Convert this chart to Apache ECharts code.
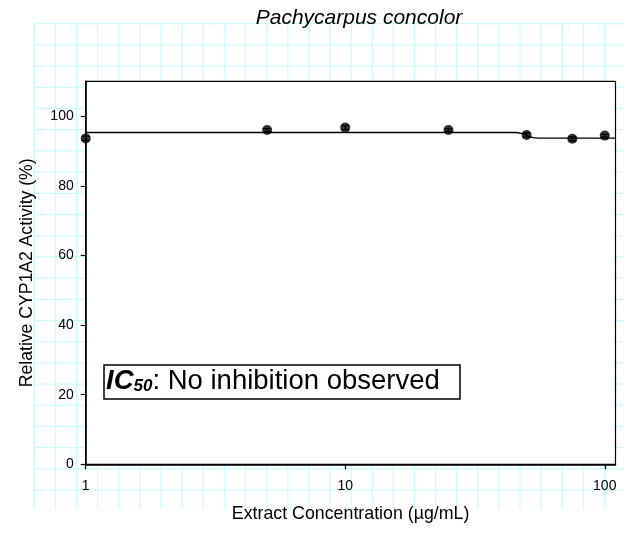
<!DOCTYPE html>
<html>
<head>
<meta charset="utf-8">
<script src="https://cdn.jsdelivr.net/npm/echarts@6/dist/echarts.min.js"></script>
<style>
  html, body { margin: 0; padding: 0; background: #fff; }
  #chart { width: 642px; height: 536px; }
</style>
</head>
<body>
<div id="chart"></div>
<script>
// Concentrations tested (µg/mL) and mean relative CYP1A2 activity (%)
const concentrations = [1, 5, 10, 25, 50, 75, 100];
const activity = [93.6, 96.0, 96.7, 96.0, 94.6, 93.5, 94.4];
const activityErr = [0.6, 0.4, 0.6, 0.4, 0.6, 0.6, 0.4];

// Fitted dose-response curve (x, y)
const fitConc = [1, 45, 48, 50, 52, 54, 58, 110];
const fitActivity = [95.3, 95.3, 95.0, 94.5, 94.0, 93.75, 93.7, 93.7];

// Axis tick values
const xTicks = [1, 10, 100];
const yTicks = [0, 20, 40, 60, 80, 100];

const chart = echarts.init(document.getElementById('chart'), null, { renderer: 'canvas' });

// Light cyan sheet grid behind the plot
const sheet = [];
const gx0 = 34.3, gy0 = 23.7, gx1 = 624.3, gy1 = 509.3;
const stepX = 21.12, stepY = 21.2;
for (let i = 0; i <= 27; i++) {
  const x = gx0 + i * stepX;
  sheet.push({ type: 'line', z: -100, silent: true,
    shape: { x1: x, y1: gy0, x2: x, y2: gy1 },
    style: { stroke: '#ccfcfc', lineWidth: 1.3 } });
}
for (let j = 0; j <= 22; j++) {
  const y = gy0 + j * stepY;
  sheet.push({ type: 'line', z: -100, silent: true,
    shape: { x1: gx0, y1: y, x2: gx1, y2: y },
    style: { stroke: '#ccfcfc', lineWidth: 1.3 } });
}

const font = '"Liberation Sans", Arial, sans-serif';

const option = {
  animation: false,
  backgroundColor: '#ffffff',
  title: {
    text: 'Pachycarpus concolor',
    left: 354, top: 3, textAlign: 'center',
    textStyle: { fontFamily: font, fontStyle: 'italic', fontWeight: 'normal', fontSize: 21, color: '#000' }
  },
  grid: {
    left: 85.7, top: 81.3, right: 26.5, bottom: 71.7,
    show: true, backgroundColor: '#ffffff', borderColor: '#000', borderWidth: 1.2
  },
  xAxis: {
    type: 'log', logBase: 10, min: 1, max: 110,
    name: 'Extract Concentration (µg/mL)', nameLocation: 'middle', nameGap: 41,
    nameTextStyle: { fontFamily: font, fontSize: 17.8, color: '#000' },
    axisLine: { show: true, onZero: false, lineStyle: { color: '#000', width: 1.5 } },
    axisTick: { show: true, inside: false, length: 5, customValues: xTicks, lineStyle: { color: '#000', width: 1.2 } },
    minorTick: { show: false },
    axisLabel: { customValues: xTicks, margin: 15, fontFamily: font, fontSize: 14, color: '#000' },
    splitLine: { show: false }
  },
  yAxis: {
    type: 'value', min: 0, max: 110,
    name: 'Relative CYP1A2 Activity (%)', nameLocation: 'middle', nameGap: 50,
    nameTextStyle: { fontFamily: font, fontSize: 17.6, color: '#000' },
    axisLine: { show: true, onZero: false, lineStyle: { color: '#000', width: 1.5 } },
    axisTick: { show: true, inside: false, length: 5, customValues: yTicks, lineStyle: { color: '#000', width: 1.2 } },
    axisLabel: { customValues: yTicks, margin: 12, fontFamily: font, fontSize: 14, color: '#000' },
    splitLine: { show: false }
  },
  graphic: {
    elements: sheet.concat([
      {
        type: 'rect', z: 50,
        shape: { x: 104, y: 365, width: 356, height: 34 },
        style: { fill: '#fff', stroke: '#000', lineWidth: 1.5 }
      },
      {
        type: 'text', z: 51, left: 106, top: 367,
        style: {
          text: '{ic|IC}{sub|50}{n|: No inhibition observed}',
          rich: {
            ic: { fontFamily: font, fontSize: 27.5, fontWeight: 'bold', fontStyle: 'italic', fill: '#000', verticalAlign: 'bottom', height: 30 },
            sub: { fontFamily: font, fontSize: 17, fontWeight: 'bold', fontStyle: 'italic', fill: '#000', verticalAlign: 'bottom', padding: [0, 0, -5, 0], height: 30 },
            n: { fontFamily: font, fontSize: 27.5, fill: '#000', verticalAlign: 'bottom', height: 30 }
          }
        }
      }
    ])
  },
  series: [
    {
      name: 'Fit',
      type: 'line',
      data: fitConc.map((c, i) => [c, fitActivity[i]]),
      showSymbol: false,
      smooth: 0.3,
      lineStyle: { color: '#000', width: 1.3 },
      z: 2
    },
    {
      name: 'SEM',
      type: 'custom',
      data: concentrations.map((c, i) => [c, activity[i], activityErr[i]]),
      renderItem: function (params, api) {
        const x = api.value(0), y = api.value(1), e = api.value(2);
        const top = api.coord([x, y + e]);
        const bot = api.coord([x, y - e]);
        const hw = 4;
        return {
          type: 'group',
          children: [
            { type: 'line', shape: { x1: top[0], y1: top[1], x2: bot[0], y2: bot[1] }, style: { stroke: '#000', lineWidth: 1.2 } },
            { type: 'line', shape: { x1: top[0] - hw, y1: top[1], x2: top[0] + hw, y2: top[1] }, style: { stroke: '#000', lineWidth: 1.2 } },
            { type: 'line', shape: { x1: bot[0] - hw, y1: bot[1], x2: bot[0] + hw, y2: bot[1] }, style: { stroke: '#000', lineWidth: 1.2 } }
          ]
        };
      },
      z: 3
    },
    {
      name: 'Activity',
      type: 'scatter',
      data: concentrations.map((c, i) => [c, activity[i]]),
      symbol: 'circle',
      symbolSize: 10,
      itemStyle: { color: '#000' },
      z: 4
    }
  ]
};

chart.setOption(option);
</script>
</body>
</html>
